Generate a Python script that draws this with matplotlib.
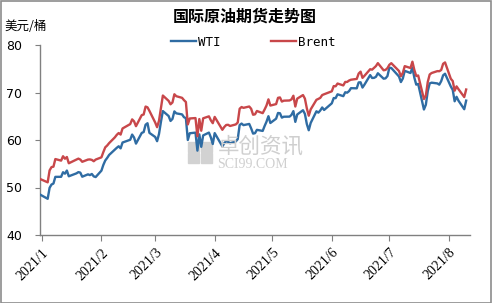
import matplotlib
matplotlib.use("Agg")
import matplotlib.pyplot as plt
import pandas as pd

plt.rcParams['font.family'] = ['Noto Sans CJK SC', 'DejaVu Sans']

dates = [
    "2020-12-31",
    "2021-01-04","2021-01-05","2021-01-06","2021-01-07","2021-01-08","2021-01-11","2021-01-12","2021-01-13","2021-01-14","2021-01-15",
    "2021-01-19","2021-01-20","2021-01-21","2021-01-22","2021-01-25","2021-01-26","2021-01-27","2021-01-28","2021-01-29",
    "2021-02-01","2021-02-02","2021-02-03","2021-02-04","2021-02-05","2021-02-08","2021-02-09","2021-02-10","2021-02-11","2021-02-12",
    "2021-02-16","2021-02-17","2021-02-18","2021-02-19","2021-02-22","2021-02-23","2021-02-24","2021-02-25","2021-02-26",
    "2021-03-01","2021-03-02","2021-03-03","2021-03-04","2021-03-05","2021-03-08","2021-03-09","2021-03-10","2021-03-11","2021-03-12",
    "2021-03-15","2021-03-16","2021-03-17","2021-03-18","2021-03-19","2021-03-22","2021-03-23","2021-03-24","2021-03-25","2021-03-26",
    "2021-03-29","2021-03-30","2021-03-31",
    "2021-04-01","2021-04-05","2021-04-06","2021-04-07","2021-04-08","2021-04-09","2021-04-12","2021-04-13","2021-04-14","2021-04-15",
    "2021-04-16","2021-04-19","2021-04-20","2021-04-21","2021-04-22","2021-04-23","2021-04-26","2021-04-27","2021-04-28","2021-04-29","2021-04-30",
    "2021-05-03","2021-05-04","2021-05-05","2021-05-06","2021-05-07","2021-05-10","2021-05-11","2021-05-12","2021-05-13","2021-05-14",
    "2021-05-17","2021-05-18","2021-05-19","2021-05-20","2021-05-21","2021-05-24","2021-05-25","2021-05-26","2021-05-27","2021-05-28",
    "2021-06-01","2021-06-02","2021-06-03","2021-06-04","2021-06-07","2021-06-08","2021-06-09","2021-06-10","2021-06-11",
    "2021-06-14","2021-06-15","2021-06-16","2021-06-17","2021-06-18","2021-06-21","2021-06-22","2021-06-23","2021-06-24","2021-06-25",
    "2021-06-28","2021-06-29","2021-06-30",
    "2021-07-01","2021-07-02","2021-07-06","2021-07-07","2021-07-08","2021-07-09","2021-07-12","2021-07-13","2021-07-14","2021-07-15",
    "2021-07-16","2021-07-19","2021-07-20","2021-07-21","2021-07-22","2021-07-23","2021-07-26","2021-07-27","2021-07-28","2021-07-29","2021-07-30",
    "2021-08-02","2021-08-03","2021-08-04","2021-08-05","2021-08-06","2021-08-09","2021-08-10",
]

wti = [
    48.52,
    47.62,49.93,50.63,50.83,52.24,52.25,53.21,52.91,53.57,52.36,
    52.98,53.24,53.13,52.27,52.77,52.61,52.85,52.34,52.20,
    53.55,54.76,55.69,56.23,56.85,57.97,58.36,58.68,58.24,59.47,
    60.05,61.14,60.52,59.24,61.49,61.67,63.22,63.53,61.50,
    60.64,59.75,61.28,63.83,66.09,65.05,64.01,64.44,66.02,65.61,
    65.39,64.80,64.60,60.00,61.42,61.55,57.76,61.18,58.56,60.97,
    61.56,60.55,59.16,
    61.45,58.65,59.33,59.77,59.60,59.32,59.70,60.18,63.15,63.46,
    63.13,63.38,62.44,61.35,61.43,62.14,61.91,62.94,63.86,65.01,63.58,
    64.49,65.69,65.63,64.71,64.90,64.92,65.28,66.08,63.82,65.37,
    66.27,65.49,63.36,62.05,63.58,66.05,65.76,66.21,66.85,66.32,
    67.72,68.83,68.81,69.62,69.23,70.05,69.96,70.29,70.91,
    70.88,72.12,72.15,71.04,71.64,73.66,73.06,73.08,73.30,74.05,
    72.91,72.98,73.47,
    75.23,75.16,73.37,72.20,72.94,74.56,74.10,75.25,73.13,71.65,
    71.81,66.42,67.42,70.30,71.91,72.07,71.91,71.65,72.39,73.62,73.95,
    71.26,70.56,68.15,69.09,68.28,66.48,68.29,
]

brent = [
    51.80,
    51.09,53.60,54.30,54.38,55.99,55.66,56.58,56.06,56.42,55.10,
    55.90,56.08,55.88,55.41,55.88,55.91,55.81,55.53,55.88,
    56.35,57.46,58.46,58.84,59.34,60.56,61.09,61.47,61.14,62.43,
    63.35,64.34,63.93,62.91,65.24,65.37,67.04,66.88,66.13,
    63.69,62.70,64.07,66.74,69.36,68.24,67.52,67.90,69.63,69.22,
    68.88,68.39,68.00,63.28,64.53,64.62,60.79,64.41,61.95,64.57,
    64.98,64.14,63.54,
    64.86,62.15,62.74,63.16,63.20,62.95,63.28,63.67,66.58,66.94,
    66.77,67.05,66.57,65.32,65.40,66.11,65.65,66.42,67.27,68.56,67.25,
    67.56,68.88,68.96,68.09,68.28,68.32,68.55,69.32,67.05,68.71,
    69.46,68.71,66.66,65.11,66.44,68.46,68.65,68.87,69.46,69.63,
    70.25,71.35,71.31,71.89,71.49,72.22,72.22,72.52,72.69,
    72.86,73.99,74.39,73.08,73.51,74.90,74.81,75.19,75.56,76.18,
    74.68,74.76,75.13,
    75.84,76.17,74.53,73.43,74.12,75.55,75.16,76.49,74.76,73.47,
    73.59,68.62,69.35,72.23,73.79,74.10,74.50,74.48,74.74,76.05,76.33,
    72.89,72.41,70.38,71.29,70.70,69.04,70.63,
]

series_names = ["WTI", "Brent"]
tick_months = ["2021-01-01","2021-02-01","2021-03-01","2021-04-01","2021-05-01","2021-06-01","2021-07-01","2021-08-01"]
tick_labels = ["2021/1","2021/2","2021/3","2021/4","2021/5","2021/6","2021/7","2021/8"]
title = "国际原油期货走势图"
unit = "美元/桶"

x = pd.to_datetime(dates)
W, H = 492, 303
fig = plt.figure(figsize=(W/100, H/100), dpi=100)
fig.patch.set_facecolor("white")
fig.add_artist(plt.Rectangle((0.5/W, 0.5/H), 1-1.5/W, 1-1.5/H, transform=fig.transFigure,
                             fill=False, edgecolor="#8c8c8c", linewidth=1.2))

ax = fig.add_axes([40/W, 1-235/H, 430/W, 190/H])

# watermark
fig.text(218/W, 1-147/H, "卓创资讯", fontsize=15.5, color="#cfcfcf", ha="left", va="center",
         fontweight="light", zorder=0)
fig.text(217/W, 1-164/H, "SCI99.COM", fontsize=10, color="#cfcfcf", ha="left", va="center",
         family="Liberation Serif", zorder=0)
for (bx, by) in [(188, 142), (201, 142), (188, 153), (201, 153)]:
    fig.add_artist(plt.Rectangle((bx/W, 1-(by+10)/H), 11/W, 10/H, transform=fig.transFigure,
                                 color="#d2d2d2", zorder=0))

c_wti = "#2f6ca3"
c_brent = "#c8474a"
ax.plot(x, wti, color=c_wti, lw=1.7, label=series_names[0], zorder=3)
ax.plot(x, brent, color=c_brent, lw=1.7, label=series_names[1], zorder=3)

ax.set_ylim(40, 80)
ax.set_yticks([40, 50, 60, 70, 80])
ax.set_xlim(pd.Timestamp("2020-12-31"), pd.Timestamp("2021-08-12"))
ax.set_xticks(pd.to_datetime(tick_months))
ax.set_xticklabels(tick_labels, rotation=45, ha="right", rotation_mode="anchor",
                   family="Liberation Serif", fontsize=10)
for lbl in ax.get_yticklabels():
    lbl.set_family("DejaVu Sans")
    lbl.set_fontsize(9)
ax.patch.set_alpha(0)
for s in ["top", "right"]:
    ax.spines[s].set_visible(False)
for s in ["left", "bottom"]:
    ax.spines[s].set_color("#808080")
    ax.spines[s].set_linewidth(1)
ax.tick_params(axis="y", length=3.6, color="#808080", pad=9.5, direction="out")
ax.tick_params(axis="x", length=4, color="#808080", pad=4, direction="out")

fig.text(245/W, 1-17/H, title, fontsize=11.5, fontweight="bold", ha="center", va="center")
fig.text(4/W, 1-26/H, unit, fontsize=9, ha="left", va="center")

leg = fig.legend(loc="center", bbox_to_anchor=(253/W, 1-42/H), ncol=2, frameon=False,
                 handlelength=2.0, columnspacing=4.0, handletextpad=0.2, borderpad=0,
                 prop={"family": "DejaVu Sans Mono", "size": 9})

fig.savefig("out.png", dpi=100)
